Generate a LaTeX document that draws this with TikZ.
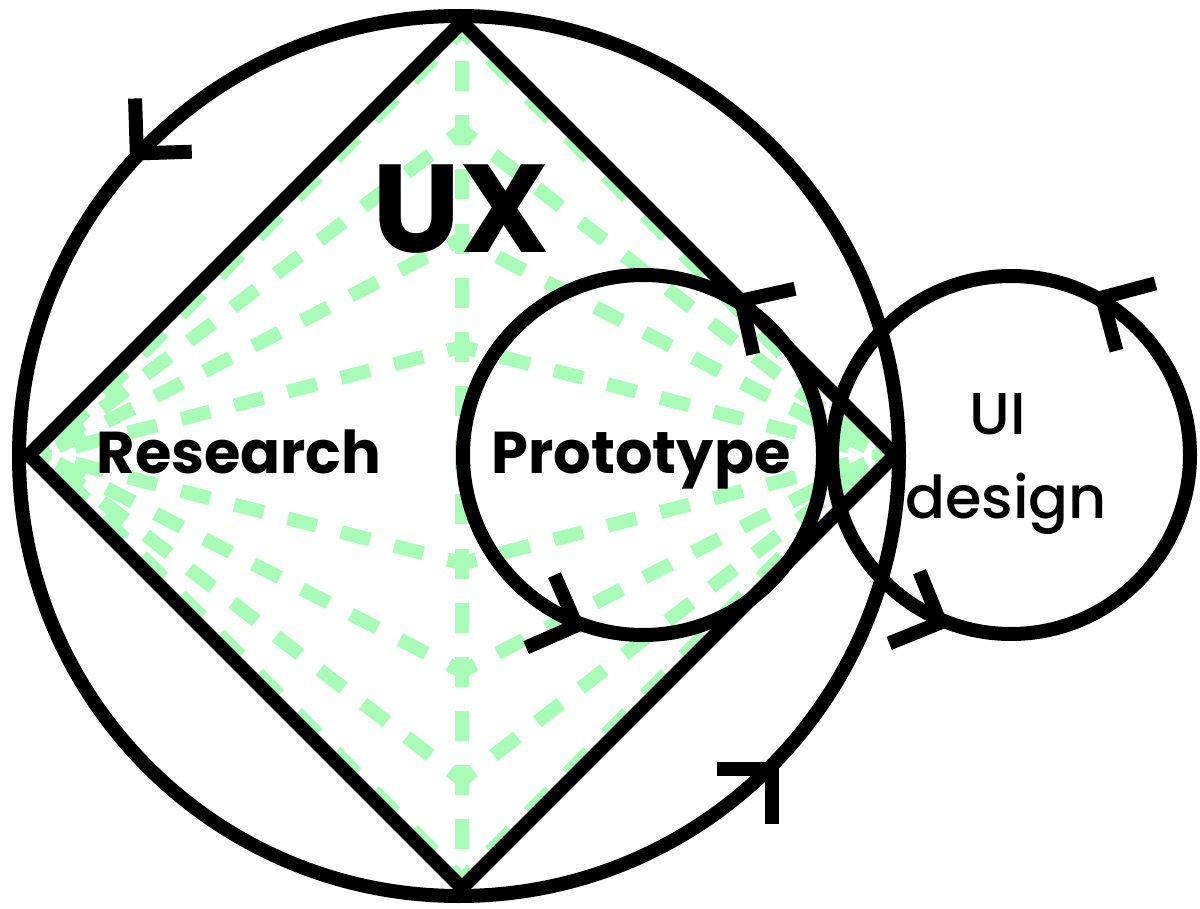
\documentclass[tikz,border=0pt]{standalone}
\usepackage{fontspec}
\setmainfont{Poppins}
\newfontfamily\medfont{Poppins Medium}
\usetikzlibrary{calc}
\definecolor{mint}{HTML}{A8FCB8}
\tikzset{
  ink/.style={line width=14pt, draw=black, line join=miter},
  guide/.style={line width=14pt, draw=mint, line join=miter, dash pattern=on 30pt off 25pt},
  flowmark/.style={line width=14pt, draw=black, line join=miter, miter limit=10},
  lbl/.style={inner sep=0pt, anchor=base}
}
% chevron on a circle pointing in the anticlockwise direction
\newcommand{\flowtick}[3]{%
  \draw[flowmark] ($(#1)+(#3:#2)+(#3+45:55)$) -- ($(#1)+(#3:#2)$) -- ($(#1)+(#3:#2)+(#3+135:55)$);}
\begin{document}
\begin{tikzpicture}[x=1pt,y=-1pt]
\useasboundingbox (0,0) rectangle (1200,909);
% key points
\coordinate (O) at (459,456);
\coordinate (T) at (462,22);
\coordinate (B) at (462,888);
\coordinate (L) at (29,455);
\coordinate (R) at (895,455);
\coordinate (gl) at (42,455);
\coordinate (gr) at (882,455);
\coordinate (P) at (643,455);
\coordinate (U) at (1011,455);
% green fan of dashed paths through the axis
\foreach \k/\yy in {0/30,1/130.1,2/238.4,3/346.7,5/563.3,6/671.6,7/779.9,8/880}{
  \pgfmathsetmacro\len{veclen(420,\yy-455)}
  \pgfmathsetmacro\ph{mod(15-\len+1100,55)}
  \coordinate (a\k) at (462,\yy);
  \draw[guide, dash phase=\ph pt] (gl) -- (a\k) -- (gr);
}
\draw[guide, dash pattern=on 30pt off 24.15pt, dash phase=15pt] (T) -- (B);
% diamond and circles
\draw[ink] (T) -- (R) -- (B) -- (L) -- cycle;
\draw[ink] (O) circle[radius=440];
\draw[ink] (P) circle[radius=180];
\draw[ink] (U) circle[radius=179];
% direction marks
\flowtick{O}{442}{-136.8}
\flowtick{O}{442}{45}
\flowtick{P}{183}{-57.5}
\flowtick{P}{183}{111.3}
\flowtick{U}{182}{-59.9}
\flowtick{U}{182}{112.9}
% labels
\node[lbl, font=\bfseries\fontsize{125}{125}\selectfont] (ux) at (461,253) {UX};
\node[lbl, font=\bfseries\fontsize{59}{59}\selectfont] (research) at (239,473) {Research};
\node[lbl, font=\bfseries\fontsize{59}{59}\selectfont] (proto) at (641,473) {Prototype};
\node[lbl, font=\medfont\fontsize{59}{59}\selectfont] (ui) at (998,435) {UI};
\node[lbl, font=\medfont\fontsize{59}{59}\selectfont] (design) at (1006,518) {design};
\end{tikzpicture}
\end{document}
